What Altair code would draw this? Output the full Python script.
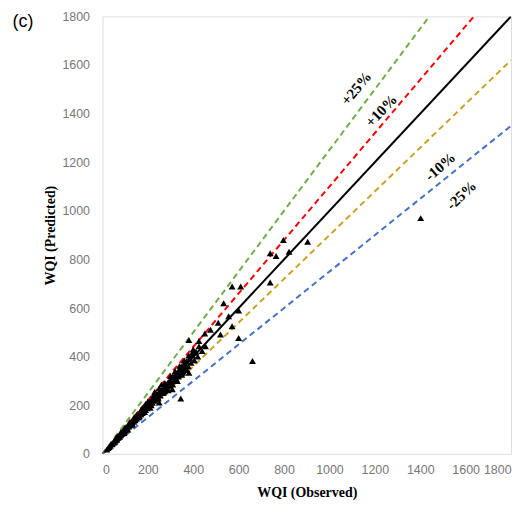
import altair as alt
import pandas as pd

# Observed / predicted WQI values
observed = [20, 25, 30, 35, 38, 42, 45, 50, 52, 55, 58, 60, 63, 66, 70, 72, 75, 78, 80, 84,
            86, 90, 92, 95, 98, 100, 104, 107, 110, 113, 116, 120, 122, 125, 128, 131, 135, 138, 140, 144,
            147, 150, 153, 156, 160, 163, 166, 170, 173, 176, 180, 183, 186, 190, 194, 197, 200, 205, 208, 212,
            216, 220, 224, 228, 232, 236, 240, 245, 250, 255, 260, 265, 270, 275, 280, 285, 290, 295, 300, 305,
            310, 315, 320, 325, 330, 335, 340, 345, 350, 355, 360, 365, 370, 378, 385, 390, 398, 405, 412, 420,
            190, 230, 260, 210, 290, 330, 150, 175, 200, 225, 250, 275, 300, 320, 340, 360, 380, 400,
            160, 185, 215, 245, 270, 310, 350, 370, 60, 80, 100, 120, 140, 110, 130, 170, 95, 65,
            1402, 904, 797, 822, 739, 765, 739, 571, 609, 534, 600, 556, 510, 571, 520, 600, 661, 476, 451,
            381, 425, 454, 425, 403, 439, 396, 367, 352, 381, 345, 308, 250]
predicted = [18, 24, 28, 33, 40, 39, 44, 47, 55, 50, 56, 62, 58, 65, 68, 74, 70, 79, 76, 82,
             90, 85, 95, 91, 100, 96, 102, 110, 104, 116, 112, 118, 126, 120, 130, 125, 136, 132, 145, 138,
             150, 144, 156, 150, 165, 155, 170, 162, 178, 168, 185, 175, 190, 180, 200, 188, 205, 195, 215, 202,
             222, 210, 230, 218, 240, 225, 246, 232, 255, 240, 262, 250, 275, 258, 285, 270, 296, 280, 305, 290,
             318, 300, 325, 310, 336, 318, 350, 330, 360, 340, 372, 350, 380, 360, 395, 375, 405, 385, 420, 400,
             205, 255, 285, 190, 262, 300, 160, 188, 215, 242, 270, 292, 320, 340, 362, 385, 405, 430,
             150, 172, 200, 228, 252, 285, 325, 345, 66, 88, 110, 131, 152, 100, 121, 180, 86, 71,
             970, 873, 880, 832, 825, 814, 705, 689, 689, 620, 590, 566, 539, 525, 491, 477, 382, 511, 495,
             468, 464, 443, 443, 416, 423, 416, 355, 334, 334, 228, 266, 211]

# Reference lines: predicted = factor * observed
line_names = ["+25%", "+10%", "1:1", "-10%", "-25%"]
line_factors = [1.25, 1.10, 1.00, 0.90, 0.75]
line_colors = ["#70AD47", "#FF0000", "#000000", "#C9A227", "#4472C4"]
line_dashed = [True, True, False, True, True]

# Line labels
label_texts = ["+25%", "+10%", "-10%", "-25%"]
label_x = [1118, 1228, 1488, 1581]
label_y = [1504, 1412, 1182, 1064]
label_angle = [310, 314, 319, 317]

AX_MAX = 1800

pts = pd.DataFrame({"obs": observed, "pred": predicted})

xs = alt.Scale(domain=[0, AX_MAX], nice=False)
ys = alt.Scale(domain=[0, AX_MAX], nice=False)

layers = []
for i, (name, f, c, d) in enumerate(zip(line_names, line_factors, line_colors, line_dashed)):
    x_end = min(AX_MAX, AX_MAX / f)
    df = pd.DataFrame({"obs": [0, x_end], "pred": [0, f * x_end], "name": [name, name]})
    mk = dict(color=c, strokeWidth=2, clip=True)
    if d:
        mk["strokeDash"] = [6, 4]
    if i == 0:
        xenc = alt.X("obs:Q", scale=xs,
                     axis=alt.Axis(title="WQI (Observed)", values=list(range(0, 1801, 200)), format="d",
                                   grid=False, ticks=False, domain=False, labelPadding=10,
                                   labelFont="Liberation Sans", labelFontSize=12.5, labelColor="#777777",
                                   titleFont="Liberation Serif", titleFontSize=14, titleFontWeight="bold",
                                   titleColor="black", titlePadding=9))
        yenc = alt.Y("pred:Q", scale=ys,
                     axis=alt.Axis(title="WQI (Predicted)", values=list(range(0, 1801, 200)), format="d",
                                   grid=False, ticks=False, domain=False, labelPadding=13,
                                   labelFont="Liberation Sans", labelFontSize=12.5, labelColor="#777777",
                                   titleFont="Liberation Serif", titleFontSize=14, titleFontWeight="bold",
                                   titleColor="black", titlePadding=4))
    else:
        xenc = alt.X("obs:Q", scale=xs)
        yenc = alt.Y("pred:Q", scale=ys)
    layers.append(alt.Chart(df).mark_line(**mk).encode(x=xenc, y=yenc))

points = alt.Chart(pts).mark_point(shape="triangle-up", filled=True, color="black",
                                     size=48, opacity=1).encode(
    x=alt.X("obs:Q", scale=xs), y=alt.Y("pred:Q", scale=ys))

for t, lx, ly, a in zip(label_texts, label_x, label_y, label_angle):
    ldf = pd.DataFrame({"obs": [lx], "pred": [ly], "t": [t]})
    layers.append(
        alt.Chart(ldf).mark_text(font="Liberation Serif", fontSize=15, fontWeight="bold",
                                  color="black", angle=a, align="center", baseline="middle").encode(
            x=alt.X("obs:Q", scale=xs), y=alt.Y("pred:Q", scale=ys), text="t:N")
    )

panel = alt.Chart(pd.DataFrame({"t": ["(c)"]})).mark_text(
    font="Liberation Sans", fontSize=18, color="black", align="center", baseline="middle"
).encode(x=alt.value(-80), y=alt.value(6), text="t:N")

chart = alt.layer(*layers, points, panel).properties(
    width=411, height=440,
    autosize=alt.AutoSizeParams(type="none"),
    padding={"left": 95, "top": 7, "right": 8, "bottom": 50},
).configure_view(stroke="#404040", strokeWidth=1.5).configure(background="white")

chart.save("out.html", embed_options={"renderer": "svg", "actions": False})
